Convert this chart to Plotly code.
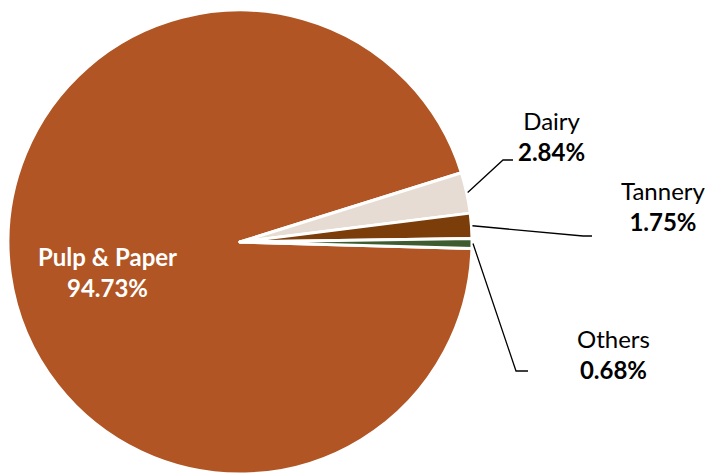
import math
import plotly.graph_objects as go

labels = ["Pulp & Paper", "Dairy", "Tannery", "Others"]
values = [94.73, 2.84, 1.75, 0.68]
colors = ["#B05523", "#E6DCD3", "#7B3E0B", "#3E5C2F"]

W, H = 710, 474
R = 232
CX, CY = 240, 242
rotation = 91.6

fig = go.Figure(go.Pie(
    labels=labels, values=values, sort=False, direction="clockwise", rotation=rotation,
    marker=dict(colors=colors, line=dict(color="white", width=3)),
    textinfo="none",
    domain=dict(x=[0, 2 * CX / W], y=[0, 2 * R / H]),
    hoverinfo="skip", showlegend=False,
))

total = sum(values)
# label block centres and leader-line elbows (pixels)
label_pos = {"Pulp & Paper": (107, 272), "Dairy": (551, 136),
             "Tannery": (663, 206), "Others": (613, 354)}
elbows = {"Dairy": [(503, 160), (513, 160)],
          "Tannery": [(583, 236), (592, 236)],
          "Others": [(516, 371), (528, 371)]}

def px(x, y):
    return x / W, 1 - y / H

cum = 0.0
shapes = []
annotations = []
for lab, v in zip(labels, values):
    mid = rotation + 360 * (cum + v / 2) / total
    cum += v
    lx, ly = px(*label_pos[lab])
    common = dict(x=lx, y=ly, xref="paper", yref="paper", showarrow=False,
                  xanchor="center", yanchor="middle", align="center")
    if lab == "Pulp & Paper":
        annotations.append(dict(text=f"<b>{lab}<br>{v:.2f}%</b>",
                                font=dict(family="Lato", size=24, color="white"), **common))
        continue
    a = math.radians(mid)
    ax, ay = CX + (R + 1) * math.sin(a), CY - (R + 1) * math.cos(a)
    pts = [(ax, ay)] + elbows[lab]
    path = "M " + " L ".join(f"{px(x, y)[0]:.5f},{px(x, y)[1]:.5f}" for x, y in pts)
    shapes.append(dict(type="path", xref="paper", yref="paper", path=path,
                       line=dict(color="black", width=1.3)))
    annotations.append(dict(text=f"{lab}<br><b>{v:.2f}%</b>",
                            font=dict(family="Lato", size=24, color="black"), **common))

fig.update_layout(
    width=W, height=H, margin=dict(l=0, r=0, t=0, b=0),
    paper_bgcolor="white", plot_bgcolor="white",
    shapes=shapes, annotations=annotations,
)
fig.write_html("out.html", config={"displayModeBar": False},
               post_script="document.body.style.margin='0';")
